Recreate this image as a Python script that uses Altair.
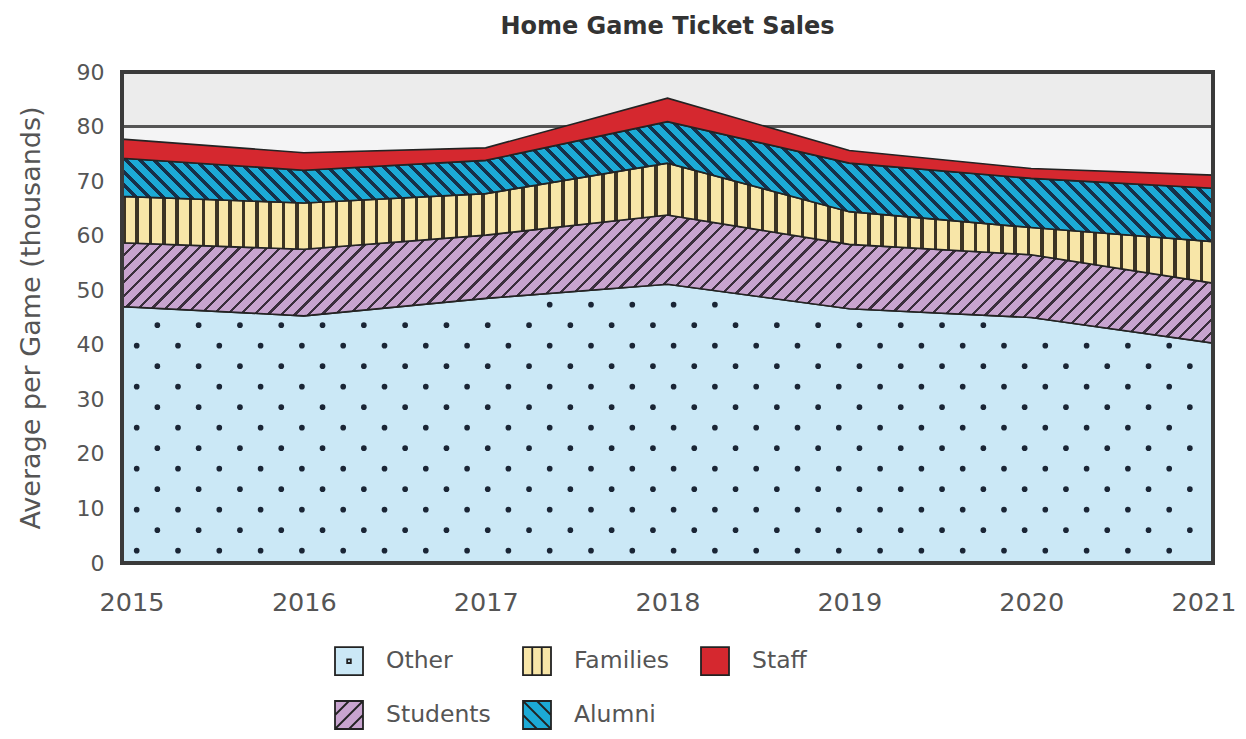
import altair as alt
import pandas as pd
import numpy as np

# ---------------- data ----------------
years = [2015, 2016, 2017, 2018, 2019, 2020, 2021]
series = ["Other", "Students", "Families", "Alumni", "Staff"]
other = [47.0, 45.3, 48.5, 51.1, 46.6, 45.0, 40.3]
students = [11.7, 12.2, 11.6, 12.7, 11.8, 11.5, 11.0]
families = [8.5, 8.5, 7.6, 9.5, 6.0, 5.0, 7.6]
alumni = [7.0, 6.0, 6.1, 7.6, 8.9, 9.0, 9.8]
staff = [3.5, 3.2, 2.3, 4.3, 2.3, 1.8, 2.4]
y_ticks = [0, 10, 20, 30, 40, 50, 60, 70, 80, 90]
ref_level = 80

values = {"Other": other, "Students": students, "Families": families,
          "Alumni": alumni, "Staff": staff}

rows = []
base = np.zeros(len(years))
for s in series:
    v = np.array(values[s])
    for i, yr in enumerate(years):
        rows.append({"year": yr, "series": s, "lo": float(base[i]), "hi": float(base[i] + v[i])})
    base = base + v
df = pd.DataFrame(rows)

# ---------------- layout / style ----------------
W, H = 1091, 491
YMAX = 90
FONT = "DejaVu Sans"
xs = alt.Scale(domain=[years[0], years[-1]], nice=False, zero=False)
ys = alt.Scale(domain=[0, YMAX], nice=False)


def stripes(n, dark_frac, dark, light, x1, y1, x2, y2):
    stops = []
    for k in range(n):
        a = round(k / n, 6)
        b = round((k + dark_frac) / n, 6)
        c = round((k + 1) / n, 6)
        stops += [{"offset": a, "color": dark}, {"offset": b, "color": dark},
                  {"offset": b, "color": light}, {"offset": c, "color": light}]
    return {"gradient": "linear", "x1": x1, "y1": y1, "x2": x2, "y2": y2, "stops": stops}


def band_h(name):
    sub = df[df.series == name]
    return (sub.hi.max() - sub.lo.min()) / YMAX * H


def diag(name, period_h, dark_frac, dark, light, forward=True):
    h = band_h(name)
    r = h / W
    k = (1 + r) / (1 + r * r)
    n = int(round((W + h) / period_h))
    if forward:   # "/" hatching
        return stripes(n, dark_frac, dark, light, 0, 0, k, k * r)
    return stripes(n, dark_frac, dark, light, 0, 1, k, 1 - k * r)  # "\" hatching


col_other, col_students, col_families, col_alumni, col_staff = (
    "#cbe8f6", "#c8a4cf", "#f8e6a8", "#1caad6", "#d5282f")

fills = {
    "Other": col_other,
    "Students": diag("Students", 13.6, 0.24, "#3b2f3d", col_students, True),
    "Families": stripes(int(round(W / 13.3)), 0.27, "#3c3424", col_families, 0, 0, 1, 0),
    "Alumni": diag("Alumni", 14.0, 0.36, "#173049", col_alumni, False),
    "Staff": col_staff,
}

# dot texture for "Other"
dot_dx, dot_dy = 41.3, 20.5
dots = []
j = 0
py = 12.3
while py < H:
    px = 14.7 + (dot_dx / 2 if j % 2 else 0)
    while px < W - 3:
        yr = years[0] + px / W * (years[-1] - years[0])
        v = py / H * YMAX
        if v < np.interp(yr, years, other) - 1.6:
            dots.append({"year": yr, "v": v})
        px += dot_dx
    py += dot_dy
    j += 1
dots_df = pd.DataFrame(dots)

x_enc = alt.X("year:Q", scale=xs,
              axis=alt.Axis(values=years, format="d", title=None, ticks=False, tickSize=0,
                            domain=False, grid=False, labelFlush=True, labelFlushOffset=23,
                            labelFont=FONT, labelFontSize=25.5, labelColor="#555",
                            labelPadding=27))
y_axis = alt.Axis(values=y_ticks, title="Average per Game (thousands)", ticks=False, tickSize=0,
                  domain=False, grid=False, labelFont=FONT, labelFontSize=22,
                  labelColor="#555", labelPadding=18, titleFont=FONT, titleFontSize=27,
                  titleFontWeight="normal", titleColor="#555", titlePadding=31)

band = alt.Chart(df).mark_rect(fill="#ececec").encode(
    x=alt.datum(years[0], scale=xs), x2=alt.datum(years[-1]),
    y=alt.datum(ref_level, scale=ys), y2=alt.datum(YMAX))
rule = alt.Chart(df).mark_rule(color="#555", strokeWidth=3).encode(
    y=alt.datum(ref_level, scale=ys))

layers = [band, rule]
for s in series:
    area = alt.Chart(df).transform_filter(alt.datum.series == s).mark_area(
        fill=fills[s], stroke="#232323", strokeWidth=1.6, opacity=1
    ).encode(
        x=x_enc,
        y=alt.Y("hi:Q", scale=ys, axis=y_axis),
        y2="lo:Q",
    )
    layers.append(area)
    if s == "Other":
        layers.append(alt.Chart(dots_df).mark_circle(size=32, color="#1a2535", opacity=1).encode(
            x=alt.X("year:Q", scale=xs), y=alt.Y("v:Q", scale=ys)))

frame = alt.Chart(df).mark_rect(fillOpacity=0, stroke="#3a3a3a", strokeWidth=3).encode(
    x=alt.datum(years[0], scale=xs), x2=alt.datum(years[-1]),
    y=alt.datum(0, scale=ys), y2=alt.datum(YMAX))
layers.append(frame)

# legend (column-major fill: Other/Students, Families/Alumni, Staff)
legend_fill = [col_other, col_students, col_families, col_alumni, col_staff]
sq = "M-1,-1H1V1H-1Z"
legend_shape = [
    sq + "M-0.13,-0.13H0.13V0.13H-0.13Z",
    sq + "M-1,0L0,-1M-1,1L1,-1M0,1L1,0",
    sq + "M-0.34,-1V1M0.34,-1V1",
    sq + "M-1,0L0,1M-1,-1L1,1M0,-1L1,0",
    sq,
]
leg = alt.Legend(title=None, orient="none", legendX=212, legendY=574, columns=3,
                 columnPadding=28, rowPadding=18, labelFont=FONT, labelFontSize=23.5,
                 labelColor="#555", labelOffset=22, symbolSize=784, symbolStrokeWidth=1.8,
                 padding=0)
legend_layer = alt.Chart(df).transform_filter("false").mark_point(
    filled=True, stroke="#222", strokeWidth=1.8, opacity=1).encode(
    x=alt.X("year:Q", scale=xs), y=alt.Y("hi:Q", scale=ys),
    fill=alt.Fill("series:N", scale=alt.Scale(domain=series, range=legend_fill), legend=leg),
    shape=alt.Shape("series:N", scale=alt.Scale(domain=series, range=legend_shape), legend=leg),
)
layers.append(legend_layer)

chart = alt.layer(*layers).properties(
    width=W, height=H,
    title=alt.TitleParams("Home Game Ticket Sales", font=FONT, fontSize=24, fontWeight="bold",
                          color="#333", anchor="middle", offset=22),
    autosize=alt.AutoSizeParams(type="none"),
    padding={"left": 114, "top": 64, "right": 25, "bottom": 168},
).configure_view(stroke=None, fill="#f4f4f5")

chart.save("out.html", embed_options={"renderer": "svg", "actions": False})
